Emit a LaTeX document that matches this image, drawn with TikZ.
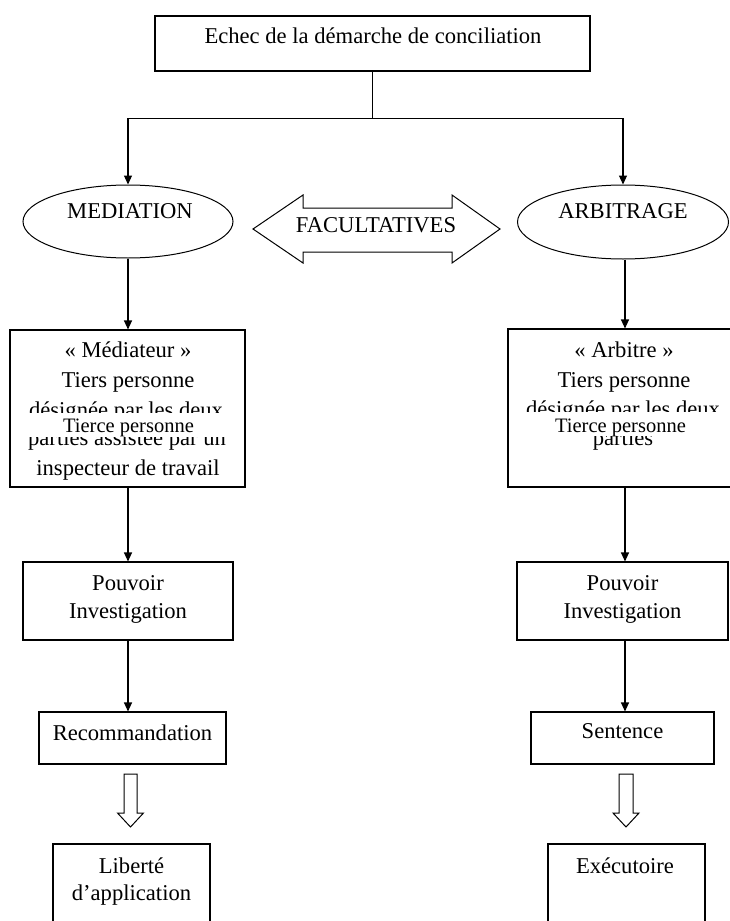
\documentclass[tikz,border=0pt]{standalone}
\usepackage{fontspec}
\setmainfont{Liberation Serif}
\usetikzlibrary{arrows.meta,shapes.geometric}
\begin{document}
\begin{tikzpicture}[x=1pt,y=1pt,
  box/.style={draw, line width=1.1pt, inner sep=0pt},
  oval/.style={ellipse, draw, line width=1pt, inner sep=0pt},
  lbl/.style={inner sep=0pt, anchor=base, font=\fontsize{22.6}{26}\selectfont},
  over/.style={inner sep=0pt, anchor=base, font=\fontsize{20.5}{24}\selectfont},
  line/.style={line width=1.1pt},
  link/.style={line width=1.1pt, -{Triangle[length=9pt,width=8pt]}},
  hollow/.style={draw, line width=1pt, fill=white, line join=miter},
]
\clip (0,0) rectangle (730,-921);
\fill[white] (0,0) rectangle (730,-921);

% column axes used by the vertical connectors
\coordinate (lcol) at (128,0);
\coordinate (rcol) at (625,0);

% --- top box
\node[box, minimum width=435, minimum height=55] (echec) at (372.5,-43.5) {};
\node[lbl] (echect) at (373,-43) {Echec de la démarche de conciliation};

% --- the two procedures
\node[oval, minimum width=210, minimum height=73] (med) at (128,-221.5) {};
\node[lbl] (medt) at (130,-218) {MEDIATION};
\node[oval, minimum width=211, minimum height=74] (arb) at (623,-222) {};
\node[lbl] (arbt) at (623,-218) {ARBITRAGE};

% --- double block arrow between them
\draw[line width=1pt, line join=miter]
  (253,-229) -- (303,-195) -- (303,-208) -- (452,-208) -- (452,-195)
  -- (500,-229) -- (452,-263) -- (452,-252) -- (303,-252) -- (303,-263) -- cycle;
\node[lbl] (fac) at (376,-232) {FACULTATIVES};

% --- left text box (Médiateur)
\node[lbl] (m1) at (128,-357) {« Médiateur »};
\node[lbl] (m2) at (128,-387) {Tiers personne};
\node[lbl] (m3) at (126,-417) {désignée par les deux};
\node[lbl] (m4) at (127,-445) {parties assistée par un};
\node[lbl] (m5) at (128,-475) {inspecteur de travail};
\fill[white] (11,-413) rectangle (244,-437);
\node[box, minimum width=235, minimum height=157] (medbox) at (127.5,-408.5) {};
\node[over] (mover) at (128.5,-432) {Tierce personne};

% --- right text box (Arbitre)
\node[lbl] (a1) at (624,-357) {« Arbitre »};
\node[lbl] (a2) at (624,-387) {Tiers personne};
\node[lbl] (a3) at (623,-416) {désignée par les deux};
\node[lbl] (a4) at (623,-445) {parties};
\fill[white] (509,-412) rectangle (730,-436);
\node[box, minimum width=234, minimum height=158] (arbbox) at (625,-408) {};
\node[over] (aover) at (620.5,-432) {Tierce personne};

% --- investigation boxes
\node[box, minimum width=210, minimum height=78] (pouvL) at (128,-601) {};
\node[lbl] (pl1) at (128,-590) {Pouvoir};
\node[lbl] (pl2) at (128,-618) {Investigation};
\node[box, minimum width=211, minimum height=78] (pouvR) at (622.5,-601) {};
\node[lbl] (pr1) at (622.5,-590) {Pouvoir};
\node[lbl] (pr2) at (622.5,-618) {Investigation};

% --- outcome boxes
\node[box, minimum width=187, minimum height=52] (reco) at (132.5,-738) {};
\node[lbl] (recot) at (132.5,-740) {Recommandation};
\node[box, minimum width=183, minimum height=52] (sent) at (622.5,-738) {};
\node[lbl] (sentt) at (622.5,-738) {Sentence};

% --- final boxes (run past the lower edge)
\node[box, minimum width=157, minimum height=116] (lib) at (131.5,-902) {};
\node[lbl] (lib1) at (131.5,-873) {Liberté};
\node[lbl] (lib2) at (131.5,-900) {d’application};
\node[box, minimum width=157, minimum height=116] (exe) at (626.5,-902) {};
\node[lbl] (exet) at (625,-873) {Exécutoire};

% --- connectors
\draw[line] (echec.south) -- ++(0,-47) coordinate (split);
\draw[link] (split) -| (med.north);
\draw[link] (split) -| (arb.north);
\draw[link] (med.south) -- (medbox.north -| med.south);
\draw[link] (arb.south -| rcol) -- (arbbox.north -| rcol);
\draw[link] (medbox.south -| lcol) -- (pouvL.north -| lcol);
\draw[link] (arbbox.south -| rcol) -- (pouvR.north -| rcol);
\draw[link] (pouvL.south -| lcol) -- (reco.north -| lcol);
\draw[link] (pouvR.south -| rcol) -- (sent.north -| rcol);

% --- hollow block arrows towards the final boxes
\draw[hollow] (124,-774) -- (137,-774) -- (137,-813) -- (143.5,-813)
  -- (130.5,-827) -- (117.5,-813) -- (124,-813) -- cycle;
\draw[hollow] (619,-774) -- (633,-774) -- (633,-813) -- (639,-813)
  -- (626,-827) -- (613,-813) -- (619,-813) -- cycle;
\end{tikzpicture}
\end{document}
